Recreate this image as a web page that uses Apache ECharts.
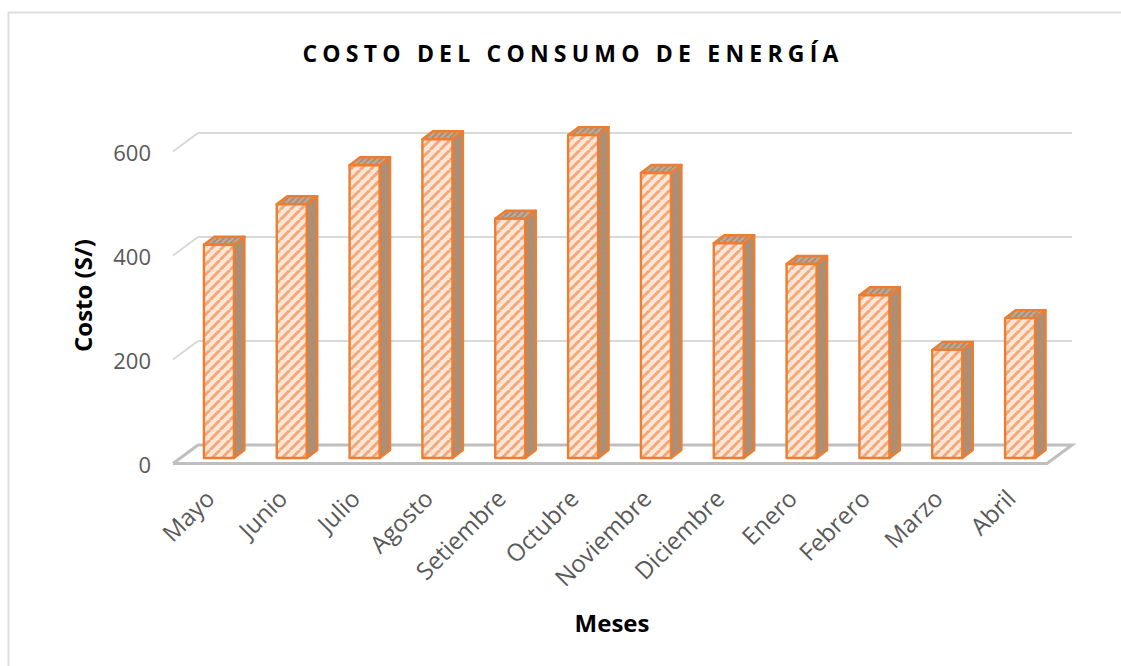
<!DOCTYPE html>
<html><head><meta charset="utf-8">
<style>html,body{margin:0;padding:0;background:#fff}#main{width:1121px;height:666px}</style>
<script src="https://cdn.jsdelivr.net/npm/echarts@6/dist/echarts.min.js"></script>
</head><body><div id="main"></div>
<script>
const categories = ['Mayo','Junio','Julio','Agosto','Setiembre','Octubre','Noviembre','Diciembre','Enero','Febrero','Marzo','Abril'];
const costs = [410,488,563,613,460,621,548,413,373,313,208,269];
const yTicks = [0,200,400,600];
const titleText = 'COSTO DEL CONSUMO DE ENERGÍA';

function hatch(bg, fg, w, s){
  const c = document.createElement('canvas'); c.width = s; c.height = s;
  const g = c.getContext('2d');
  g.fillStyle = bg; g.fillRect(0,0,s,s);
  g.strokeStyle = fg; g.lineWidth = w;
  g.beginPath();
  for (let k=-s;k<=2*s;k+=s){ g.moveTo(k,s); g.lineTo(k+s,0); }
  g.stroke();
  return {image:c, repeat:'repeat', imageWidth:s, imageHeight:s};
}
const frontFill = hatch('#fde6d7','#f4a877',3,10);
const sideFill = hatch('#a09488','#b98a63',2,5);
const topFill = hatch('#b8aa9e','#b78a66',2,6);
const edge = {stroke:'#ed7d31', lineWidth:2.4, lineJoin:'round'};

const DX=25, DY=18.5, BDX=10.5, BDY=8, SHIFT=9.5, DROP=5.5, BW=30;
const FONT='Open Sans';

const chart = echarts.init(document.getElementById('main'), null, {renderer:'svg'});
chart.setOption({
  animation:false,
  backgroundColor:'#fff',
  title:{text:titleText,left:568,top:36,textAlign:'center',
    textStyle:{fontFamily:FONT,fontSize:23,fontWeight:'bold',color:'#000'}},
  graphic:[{type:'polyline',z:-1,shape:{points:[[8.5,666],[8.5,12.5],[1121,12.5]]},style:{fill:'none',stroke:'#dedede',lineWidth:2}}],
  grid:{left:173,right:74,top:151.5,height:312},
  xAxis:{type:'category',data:categories,
    name:'Meses',nameLocation:'middle',nameGap:147,nameMoveOverlap:false,
    nameTextStyle:{fontFamily:FONT,fontSize:24,fontWeight:'bold',color:'#000',padding:[0,0,0,4]},
    axisLine:{show:false},axisTick:{show:false},
    axisLabel:{rotate:45,interval:0,margin:30,fontFamily:FONT,fontSize:24,color:'#595959'}},
  yAxis:{type:'value',min:0,max:600,interval:200,
    name:'Costo (S/)',nameLocation:'middle',nameGap:79,
    nameTextStyle:{fontFamily:FONT,fontSize:24,fontWeight:'bold',color:'#000',padding:[0,0,0,24]},
    axisLine:{show:false},axisTick:{show:false},splitLine:{show:false},
    axisLabel:{margin:22,padding:[4,0,0,0],fontFamily:FONT,fontSize:22,color:'#595959'}},
  series:[
   {type:'custom',z:1,data:yTicks,silent:true,
    renderItem(p,api){
      const v=api.value(0), a=api.coord([0,v]), left=p.coordSys.x, right=left+p.coordSys.width, y=a[1];
      const floor=v===0;
      const pts=floor?[[left,y],[right,y],[right+DX,y-DY],[left+DX,y-DY],[left,y]]:[[left,y],[left+DX,y-DY],[right+DX,y-DY]];
      return {type:'polyline',shape:{points:pts},style:{fill:'none',stroke:floor?'#bfbfbf':'#d9d9d9',lineWidth:floor?3:2}};
    },encode:{y:0}},
   {type:'custom',z:2,data:costs,silent:true,
    renderItem(p,api){
      const v=api.value(0);
      const b=api.coord([p.dataIndex,0]), t=api.coord([p.dataIndex,v]);
      const x0=b[0]+SHIFT-BW/2, x1=x0+BW, y0=b[1]-DROP, y1=t[1]-DROP;
      return {type:'group',children:[
        {type:'polygon',shape:{points:[[x1,y1],[x1+BDX,y1-BDY],[x1+BDX,y0-BDY],[x1,y0]]},style:{fill:sideFill,...edge}},
        {type:'polygon',shape:{points:[[x0,y1],[x0+BDX,y1-BDY],[x1+BDX,y1-BDY],[x1,y1]]},style:{fill:topFill,...edge}},
        {type:'rect',shape:{x:x0,y:y1,width:BW,height:y0-y1},style:{fill:frontFill,...edge}}
      ]};
    },encode:{y:0}}
  ]
});
document.querySelectorAll('#main svg text').forEach(t=>{
  if(t.textContent===titleText){t.style.letterSpacing='5.2px';}
});
</script></body></html>
